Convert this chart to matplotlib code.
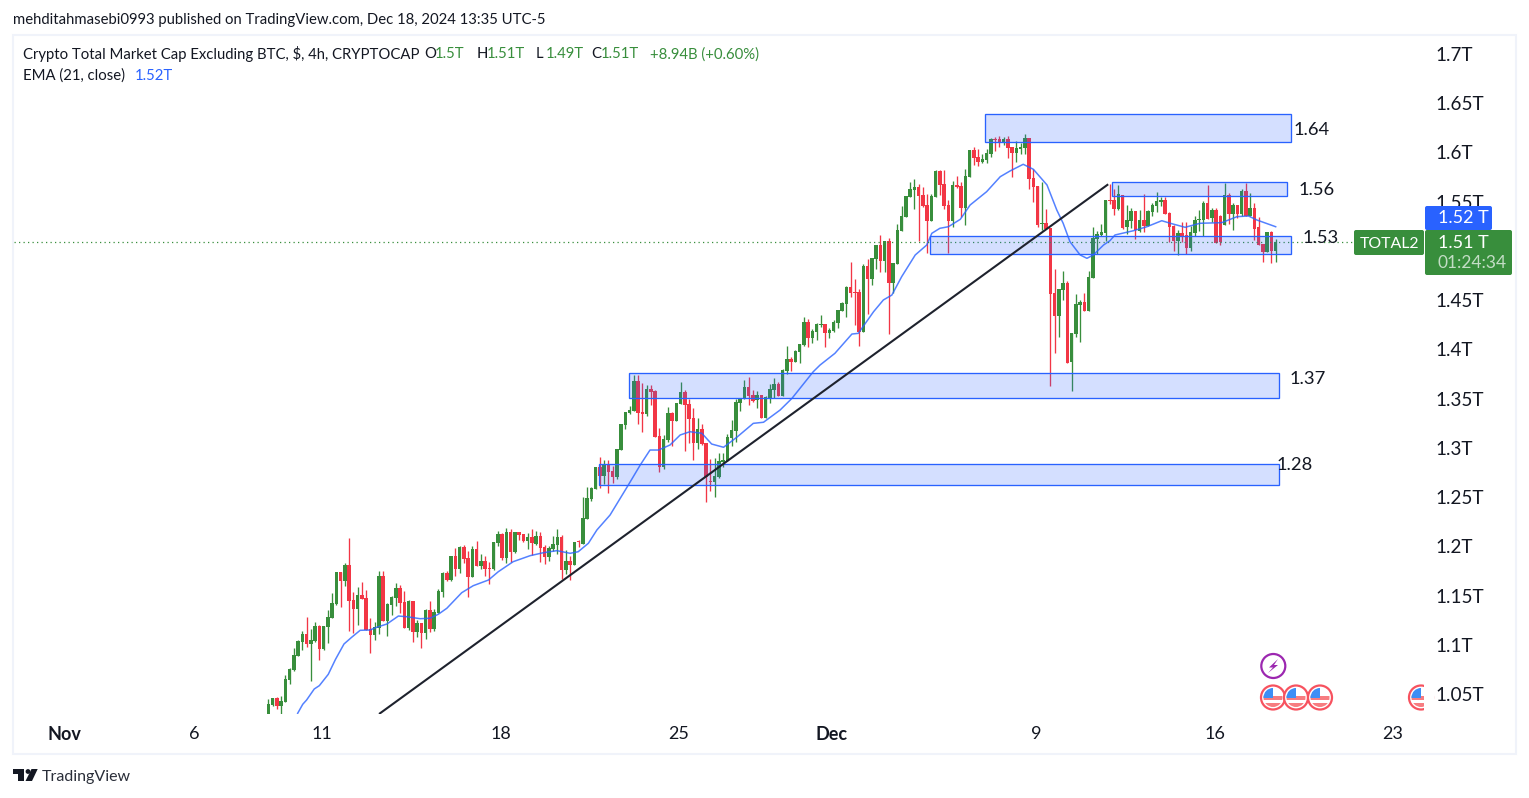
# plot.py
#
# TOTAL2 4h candles with EMA, zones and trend line

import numpy as np
import matplotlib
matplotlib.use('Agg')
import matplotlib.pyplot as plt
from matplotlib.patches import Circle, FancyBboxPatch, Polygon, Rectangle
from matplotlib.transforms import Affine2D

opens = [1.0250,1.0388,1.0459,1.0378,1.0419,1.0642,1.0744,1.0886,1.1028,1.1109,
	1.1008,1.1038,1.1191,1.0957,1.1180,1.1272,1.1414,1.1739,1.1648,1.1810,
	1.1455,1.1363,1.1505,1.1475,1.1160,1.1099,1.1170,1.1698,1.1241,1.1404,
	1.1475,1.1576,1.1434,1.1170,1.1444,1.1130,1.1221,1.1120,1.1353,1.1160,
	1.1323,1.1536,1.1729,1.1658,1.1902,1.1770,1.1993,1.1881,1.1688,1.1973,
	1.1800,1.1851,1.1780,1.1770,1.2034,1.2125,1.1881,1.2145,1.1942,1.2145,
	1.2125,1.2054,1.2094,1.2023,1.2105,1.1993,1.1891,1.1973,1.2013,1.2094,
	1.1759,1.1851,1.1810,1.2054,1.2023,1.2277,1.2480,1.2582,1.2805,1.2714,
	1.2826,1.2765,1.2704,1.2978,1.3232,1.3354,1.3374,1.3679,1.3364,1.3344,
	1.3597,1.3577,1.3120,1.2805,1.3080,1.3354,1.3273,1.3445,1.3567,1.3445,
	1.3303,1.3049,1.3191,1.3049,1.2663,1.2653,1.2704,1.2856,1.2866,1.3100,
	1.3171,1.3455,1.3496,1.3618,1.3536,1.3486,1.3536,1.3303,1.3506,1.3587,
	1.3648,1.3526,1.3781,1.3903,1.3872,1.3974,1.4045,1.4278,1.4116,1.4177,
	1.4248,1.4258,1.4167,1.4187,1.4268,1.4390,1.4461,1.4634,1.4583,1.4583,
	1.4177,1.4847,1.4715,1.4918,1.5060,1.4898,1.5101,1.4674,1.4867,1.5203,
	1.5345,1.5548,1.5619,1.5649,1.5568,1.5466,1.5304,1.5548,1.5812,1.5680,
	1.5466,1.5304,1.5669,1.5659,1.5436,1.5751,1.6025,1.5954,1.5903,1.5923,
	1.5984,1.6137,1.6137,1.6106,1.6137,1.6055,1.5994,1.6035,1.6045,1.6147,
	1.5740,1.5659,1.5273,1.5283,1.5233,1.4573,1.4339,1.4603,1.4674,1.3872,
	1.4156,1.4451,1.4481,1.4390,1.4725,1.5121,1.5162,1.5182,1.5517,1.5517,
	1.5426,1.5568,1.5243,1.5304,1.5406,1.5203,1.5314,1.5253,1.5395,1.5456,
	1.5497,1.5517,1.5385,1.5253,1.5101,1.5182,1.5162,1.5030,1.5182,1.5314,
	1.5314,1.5487,1.5334,1.5416,1.5355,1.5263,1.5568,1.5375,1.5466,1.5375,
	1.5609,1.5355,1.5436,1.5243,1.5071,1.4989,1.5192,1.5000]

closes = [1.0398,1.0459,1.0378,1.0429,1.0652,1.0754,1.0896,1.1038,1.1109,1.1008,
	1.1048,1.1191,1.0957,1.1191,1.1282,1.1424,1.1739,1.1648,1.1810,1.1444,
	1.1363,1.1505,1.1465,1.1150,1.1099,1.1180,1.1698,1.1241,1.1414,1.1485,
	1.1576,1.1424,1.1170,1.1444,1.1130,1.1221,1.1120,1.1353,1.1160,1.1333,
	1.1546,1.1729,1.1658,1.1902,1.1770,1.1993,1.1871,1.1688,1.1973,1.1800,
	1.1851,1.1770,1.1773,1.2044,1.2125,1.1881,1.2145,1.1942,1.2145,1.2115,
	1.2054,1.2094,1.2034,1.2105,1.1983,1.1891,1.1983,1.2023,1.2094,1.1759,
	1.1851,1.1810,1.2044,1.2044,1.2287,1.2491,1.2592,1.2805,1.2714,1.2826,
	1.2754,1.2704,1.2988,1.3242,1.3364,1.3384,1.3679,1.3354,1.3344,1.3597,
	1.3567,1.3110,1.2805,1.3090,1.3354,1.3273,1.3455,1.3567,1.3435,1.3293,
	1.3049,1.3191,1.3039,1.2704,1.2653,1.2714,1.2866,1.2876,1.3110,1.3181,
	1.3465,1.3506,1.3618,1.3526,1.3476,1.3536,1.3303,1.3516,1.3597,1.3648,
	1.3526,1.3790,1.3903,1.3872,1.3984,1.4055,1.4278,1.4116,1.4187,1.4258,
	1.4258,1.4167,1.4197,1.4278,1.4400,1.4471,1.4634,1.4573,1.4573,1.4177,
	1.4847,1.4715,1.4928,1.5060,1.4898,1.5101,1.4674,1.4878,1.5213,1.5355,
	1.5558,1.5629,1.5649,1.5558,1.5456,1.5304,1.5558,1.5812,1.5669,1.5456,
	1.5304,1.5669,1.5649,1.5436,1.5761,1.6025,1.5944,1.5903,1.5933,1.5994,
	1.6137,1.6126,1.6096,1.6137,1.6045,1.5994,1.6045,1.6055,1.6147,1.5730,
	1.5649,1.5263,1.5283,1.5223,1.4562,1.4339,1.4613,1.4674,1.3862,1.4166,
	1.4461,1.4481,1.4390,1.4735,1.5131,1.5172,1.5192,1.5517,1.5507,1.5426,
	1.5578,1.5233,1.5314,1.5406,1.5213,1.5314,1.5253,1.5406,1.5466,1.5507,
	1.5517,1.5375,1.5243,1.5101,1.5182,1.5142,1.5030,1.5192,1.5314,1.5324,
	1.5487,1.5324,1.5416,1.5081,1.5091,1.5568,1.5375,1.5466,1.5375,1.5609,
	1.5355,1.5436,1.5223,1.5060,1.4989,1.5192,1.5000,1.5091]

highs = [1.0449,1.0463,1.0470,1.0480,1.0693,1.0764,1.0967,1.1048,1.1140,1.1282,
	1.1160,1.1231,1.1201,1.1191,1.1353,1.1526,1.1739,1.1739,1.1830,1.2084,
	1.1536,1.1587,1.1637,1.1556,1.1272,1.1231,1.1749,1.1749,1.1424,1.1495,
	1.1627,1.1607,1.1546,1.1455,1.1444,1.1251,1.1221,1.1363,1.1444,1.1363,
	1.1566,1.1739,1.1749,1.1902,1.1983,1.2003,1.2013,1.1952,1.2003,1.2054,
	1.1922,1.1902,1.1841,1.2044,1.2155,1.2135,1.2186,1.2176,1.2145,1.2145,
	1.2125,1.2135,1.2176,1.2155,1.2145,1.2013,1.2003,1.2105,1.2176,1.2115,
	1.1962,1.1902,1.2044,1.2064,1.2501,1.2602,1.2602,1.2805,1.2907,1.2876,
	1.2876,1.2815,1.2988,1.3242,1.3364,1.3425,1.3740,1.3740,1.3658,1.3638,
	1.3638,1.3587,1.3201,1.3130,1.3415,1.3364,1.3455,1.3669,1.3587,1.3496,
	1.3404,1.3303,1.3242,1.3049,1.2887,1.2897,1.2948,1.2948,1.3140,1.3283,
	1.3496,1.3506,1.3689,1.3719,1.3587,1.3577,1.3536,1.3526,1.3648,1.3709,
	1.3669,1.3801,1.4035,1.3923,1.3994,1.4055,1.4329,1.4309,1.4207,1.4268,
	1.4350,1.4258,1.4217,1.4299,1.4400,1.4481,1.4644,1.4888,1.4715,1.4614,
	1.4867,1.4918,1.4928,1.5060,1.5162,1.5101,1.5131,1.4878,1.5274,1.5456,
	1.5558,1.5700,1.5731,1.5680,1.5649,1.5578,1.5578,1.5822,1.5822,1.5822,
	1.5517,1.5710,1.5761,1.5700,1.5832,1.6025,1.6055,1.6035,1.5984,1.6035,
	1.6147,1.6157,1.6167,1.6157,1.6167,1.6055,1.6116,1.6096,1.6187,1.6147,
	1.5832,1.5659,1.5700,1.5426,1.5233,1.4816,1.4613,1.4796,1.4694,1.4166,
	1.4562,1.4502,1.4573,1.4796,1.5243,1.5202,1.5273,1.5517,1.5680,1.5629,
	1.5670,1.5568,1.5466,1.5436,1.5406,1.5416,1.5578,1.5416,1.5487,1.5599,
	1.5548,1.5548,1.5395,1.5263,1.5213,1.5294,1.5294,1.5253,1.5355,1.5416,
	1.5507,1.5670,1.5436,1.5436,1.5365,1.5690,1.5588,1.5487,1.5466,1.5629,
	1.5690,1.5588,1.5487,1.5345,1.5071,1.5192,1.5203,1.5121]

lows = [1.0250,1.0378,1.0348,1.0297,1.0419,1.0602,1.0734,1.0886,1.0947,1.0977,
	1.0632,1.1028,1.0845,1.0947,1.1018,1.1272,1.1404,1.1384,1.1597,1.1140,
	1.1120,1.1201,1.1465,1.1150,1.0916,1.1048,1.1109,1.1241,1.1089,1.1302,
	1.1394,1.1323,1.1170,1.1150,1.1028,1.1079,1.0967,1.1059,1.1130,1.1140,
	1.1323,1.1485,1.1648,1.1648,1.1698,1.1729,1.1830,1.1485,1.1688,1.1800,
	1.1770,1.1698,1.1617,1.1759,1.2003,1.1861,1.1830,1.1841,1.1932,1.2064,
	1.2044,1.1973,1.1912,1.2013,1.1841,1.1820,1.1851,1.1952,1.1922,1.1668,
	1.1719,1.1658,1.1810,1.1993,1.2023,1.2277,1.2460,1.2582,1.2592,1.2633,
	1.2541,1.2643,1.2684,1.2978,1.3191,1.3344,1.3374,1.3242,1.3161,1.3323,
	1.3435,1.3110,1.2755,1.2785,1.3059,1.3019,1.3273,1.3445,1.2968,1.3049,
	1.2876,1.2988,1.3029,1.2450,1.2562,1.2501,1.2694,1.2805,1.2866,1.3019,
	1.3059,1.3374,1.3496,1.3435,1.3465,1.3404,1.3303,1.3303,1.3455,1.3506,
	1.3526,1.3526,1.3750,1.3781,1.3872,1.3862,1.4035,1.4025,1.4065,1.4096,
	1.4228,1.4025,1.4116,1.4177,1.4217,1.4390,1.4329,1.4532,1.4248,1.4035,
	1.4177,1.4360,1.4654,1.4817,1.4786,1.4786,1.4157,1.4573,1.4867,1.5203,
	1.5345,1.5548,1.5426,1.5101,1.5446,1.4979,1.5304,1.5548,1.5568,1.5426,
	1.4979,1.5243,1.5639,1.5344,1.5263,1.5751,1.5872,1.5862,1.5893,1.5893,
	1.5954,1.6015,1.6055,1.6076,1.5944,1.5751,1.5903,1.5984,1.5984,1.5629,
	1.5497,1.5243,1.5212,1.5223,1.3628,1.3963,1.4126,1.4502,1.3862,1.3577,
	1.4126,1.4075,1.4390,1.4390,1.4725,1.4969,1.5151,1.5101,1.5476,1.5365,
	1.5416,1.5223,1.5172,1.5233,1.5121,1.5192,1.5192,1.5253,1.5355,1.5395,
	1.5456,1.5375,1.5091,1.5000,1.4959,1.5091,1.4969,1.5000,1.5152,1.5203,
	1.5152,1.5324,1.5294,1.5081,1.5060,1.5263,1.5274,1.5213,1.5334,1.5355,
	1.5355,1.5355,1.5111,1.5060,1.4888,1.4989,1.4878,1.4888]

# EMA at these bars
ema_bars = [6.9,8.1,9.0,10.8,12,14.1,15.8,17.8,19.6,21.6,23.9,25.5,27.9,30.6,32.6,35.7,38,40,42,
	45.5,48.2,51.8,54.1,57.6,61.6,64.7,67.9,71,72.9,75.3,77.3,80.4,84.7,87.5,89.8,91.8,94.5,
	96.9,99.2,102,104.3,107.1,110.2,114.1,116.5,120.4,123.2,128.2,129.8,133.3,137.3,138.8,
	142.4,144.7,146.7,149,152.2,154.9,156.1,158,160,162.8,165.1,169,172.2,174.5,177.6,180,
	183.2,185.5,187,188.6,191,192.6,194.1,196.5,198,199.2,203.5,206.7,210.2,212.2,215.7,
	219.2,224.3,227.9,230.6,232.6,237]
ema_vals = [1.0304,1.0396,1.0439,1.0551,1.0585,1.0700,1.0852,1.1008,1.1076,1.1147,1.1150,1.1178,
	1.1211,1.1292,1.1285,1.1265,1.1269,1.1310,1.1371,1.1529,1.1600,1.1658,1.1742,1.1844,1.1905,
	1.1935,1.1956,1.1929,1.1945,1.2031,1.2166,1.2318,1.2623,1.2826,1.2978,1.2978,1.3029,1.3131,
	1.3164,1.3148,1.3039,1.3006,1.3107,1.3249,1.3260,1.3384,1.3503,1.3773,1.3841,1.3960,1.4156,
	1.4163,1.4383,1.4502,1.4552,1.4738,1.4959,1.5060,1.5179,1.5230,1.5246,1.5321,1.5466,1.5602,
	1.5754,1.5812,1.5880,1.5829,1.5670,1.5416,1.5281,1.5094,1.4959,1.4925,1.4959,1.5060,1.5104,
	1.5162,1.5205,1.5246,1.5307,1.5281,1.5240,1.5281,1.5287,1.5348,1.5355,1.5314,1.5246]

zone_names = ['1.64', '1.56', '1.53', '1.37', '1.28']
zone_left = [168.6, 198.5, 155.7, 84.9, 77.9]
zone_right = [240.6, 239.7, 240.6, 237.8, 237.8]
zone_top = [1.6391, 1.5700, 1.5152, 1.3765, 1.2833]
zone_bottom = [1.6106, 1.5558, 1.4969, 1.3503, 1.2620]
zone_label_x = [241.1, 242.5, 243.4, 240.2, 237.3]
zone_label_y = [1.6228, 1.5619, 1.5131, 1.3699, 1.2826]

trend_bars = [26.05, 197.6]
trend_vals = [1.0297, 1.5677]

price_ticks = [1.05, 1.1, 1.15, 1.2, 1.25, 1.3, 1.35, 1.4, 1.45, 1.55, 1.6, 1.65, 1.7]
price_labels = ['1.05T', '1.1T', '1.15T', '1.2T', '1.25T', '1.3T', '1.35T', '1.4T', '1.45T', '1.55T', '1.6T', '1.65T', '1.7T']
date_ticks = [-48, -17.4, 12.6, 54.6, 96.6, 132.6, 180.6, 222.6, 264.6]
date_labels = ['Nov', '6', '11', '18', '25', 'Dec', '9', '16', '23']

W, H = 1529, 798
GREEN = '#388e3c'
RED = '#f23645'
BLUE = '#2962ff'
TEXT = '#131722'
FONT = 'Lato'


def flag(fig, px, cx, cy):
	fig.add_artist(Circle((cx, cy), 12, transform=px, fc='white', ec='#f7525f', lw=1.6, zorder=1))
	clip = Circle((cx, cy), 9.5, transform=px)
	parts = [(cx - 10, cy - 1.5, 20, 3.5, '#f77c80'), (cx - 10, cy + 5.5, 20, 3.5, '#f77c80'),
		(cx - 10, cy - 10, 10, 10, '#3d8ef5')]
	for x, y, w, h, col in parts:
		r = Rectangle((x, y), w, h, transform=px, fc=col, ec='none', zorder=1)
		r.set_clip_path(clip)
		fig.add_artist(r)


def plot():
	plt.rcParams['font.family'] = [FONT, 'DejaVu Sans']
	fig = plt.figure(figsize=(W / 100, H / 100), dpi=100, facecolor='white')
	px = Affine2D().scale(1 / W, -1 / H).translate(0, 1) + fig.transFigure

	ax = fig.add_axes([14 / W, 1 - 714 / H, 1410 / W, 678 / H])
	ax.set_xlim(-59.84, 271.9)
	ax.set_ylim(1.0297, 1.7183)
	for s in ax.spines.values():
		s.set_visible(False)

	o = np.array(opens)
	c = np.array(closes)
	bars = np.arange(len(o))
	cols = [GREEN if b >= a else RED for a, b in zip(o, c)]

	wicks = ax.vlines(bars, lows, highs, colors=cols, lw=0.95, zorder=2)
	wicks.set_snap(True)
	ax.bar(bars, np.abs(c - o), bottom=np.minimum(o, c), width=0.8, color=cols, lw=0, zorder=2)
	ax.plot(ema_bars, ema_vals, color=BLUE, lw=1.1, alpha=0.8, zorder=3)
	ax.axhline(closes[-1], color=GREEN, lw=0.9, ls=(0, (1, 2.6)), zorder=3)

	for i in range(len(zone_names)):
		ax.add_patch(Rectangle((zone_left[i], zone_bottom[i]), zone_right[i] - zone_left[i],
			zone_top[i] - zone_bottom[i], fc=(0.16, 0.38, 1, 0.2), ec=BLUE, lw=0.95, zorder=4))
		ax.text(zone_label_x[i], zone_label_y[i], zone_names[i], fontsize=13.2, color=TEXT, va='center', zorder=5)

	ax.plot(trend_bars, trend_vals, color='#1e222d', lw=1.5, solid_capstyle='butt', zorder=5)

	ax.yaxis.tick_right()
	ax.set_yticks(price_ticks, price_labels)
	ax.tick_params(axis='y', length=0, pad=8.5, labelsize=13.6, labelcolor=TEXT)
	ax.set_xticks(date_ticks, date_labels)
	ax.tick_params(axis='x', length=0, pad=8.5, labelsize=13, labelcolor=TEXT)
	for lab, name in zip(ax.get_xticklabels(), date_labels):
		if name in ('Nov', 'Dec'):
			lab.set_fontweight('bold')

	# chart frame
	fig.add_artist(Rectangle((13, 35), 1503, 719, transform=px, fc='none', ec='#f0f3fa', lw=1.5, zorder=1))

	# header and legend
	fig.text(13, 20, 'mehditahmasebi0993 published on TradingView.com, Dec 18, 2024 13:35 UTC-5',
		transform=px, fontsize=10.7, color=TEXT, va='center')
	legend = [(23, 'Crypto Total Market Cap Excluding BTC, $, 4h, CRYPTOCAP', TEXT), (424.5, 'O', TEXT),
		(435, '1.5T', GREEN), (477, 'H', TEXT), (487, '1.51T', GREEN), (536, 'L', TEXT), (546, '1.49T', GREEN),
		(591.5, 'C', TEXT), (601, '1.51T', GREEN), (650, '+8.94B (+0.60%)', GREEN)]
	for x, s, col in legend:
		fig.text(x, 54.5, s, transform=px, fontsize=10.7, color=col, va='center')
	fig.text(23, 75.5, 'EMA (21, close)', transform=px, fontsize=10.7, color=TEXT, va='center')
	fig.text(135, 75.5, '1.52T', transform=px, fontsize=10.7, color=BLUE, va='center')

	# event icons
	fig.add_artist(Circle((1273.3, 666), 12, transform=px, fc='white', ec='#9c27b0', lw=1.6, zorder=1))
	fig.add_artist(Polygon([(1278, 659), (1269, 667.5), (1273, 667.5), (1268, 673), (1278, 665), (1274, 665)],
		transform=px, fc='#9c27b0', ec='none', zorder=1))
	for cx in [1273, 1296, 1320, 1421]:
		flag(fig, px, cx, 697.5)
	fig.add_artist(Rectangle((1424, 680), 10, 34, transform=px, fc='white', ec='none', zorder=1.5))

	# price scale labels
	boxes = [(1425, 206, 67, 24, BLUE), (1425, 230, 87, 45, GREEN), (1354, 230, 70, 25, GREEN)]
	for x, y, w, h, col in boxes:
		fig.add_artist(FancyBboxPatch((x, y), w, h, boxstyle='round,pad=0,rounding_size=2', transform=px,
			fc=col, ec='none', zorder=2))
	fig.text(1438, 218, '1.52 T', transform=px, fontsize=13, color='white', va='center')
	fig.text(1438, 243, '1.51 T', transform=px, fontsize=13, color='white', va='center')
	fig.text(1437, 263.5, '01:24:34', transform=px, fontsize=12.5, color='#c3ddc5', va='center')
	fig.text(1360, 243.5, 'TOTAL2', transform=px, fontsize=11.4, color='white', va='center')

	# logo
	fig.add_artist(Polygon([(13, 769), (24, 769), (24, 781), (18, 781), (18, 774), (13, 774)],
		transform=px, fc=TEXT, ec='none', zorder=1))
	fig.add_artist(Circle((28, 771.5), 2.4, transform=px, fc=TEXT, ec='none', zorder=1))
	fig.add_artist(Polygon([(31.5, 769), (37.7, 769), (32, 781), (25.5, 781)],
		transform=px, fc=TEXT, ec='none', zorder=1))
	fig.text(42, 777, 'TradingView', transform=px, fontsize=11.5, color='#2a2e39', va='center')

	fig.savefig('out.png', dpi=100)


if __name__ == '__main__':
	plot()

#EOF
